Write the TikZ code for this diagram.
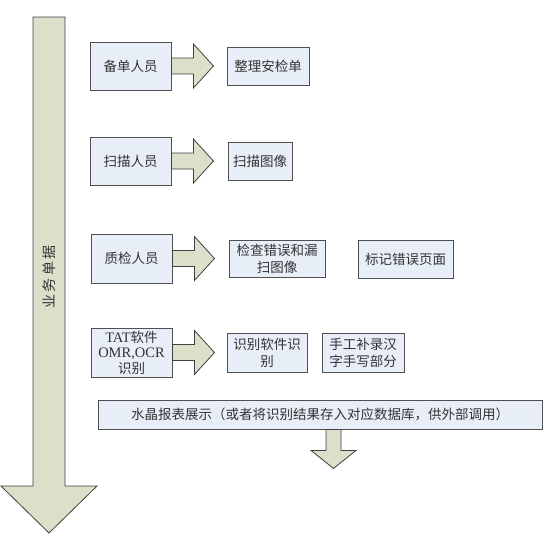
\documentclass[tikz,border=0pt]{standalone}
\usepackage{fontspec}
\setmainfont{Liberation Serif}
\newfontfamily\cjk{Noto Sans CJK SC}
\usetikzlibrary{calc}
\definecolor{boxfill}{HTML}{E8EEF8}
\definecolor{boxline}{HTML}{505050}
\definecolor{arrfill}{HTML}{DCDFC9}
\definecolor{arrline}{HTML}{404040}
\tikzset{
  box/.style={draw=boxline, fill=boxfill, line width=0.9pt, inner sep=0pt,
    align=center, font=\cjk\fontsize{13.5}{17}\selectfont, text=black!80},
  blockarrow/.style={draw=arrline, fill=arrfill, line width=0.8pt, line join=miter},
}
\begin{document}
\begin{tikzpicture}[x=1pt,y=-1pt]
\useasboundingbox (0,0) rectangle (551,544);
% big vertical arrow
\draw[blockarrow] (33,17) -- (65,17) -- (65,486) -- (97,486) -- (49,533) -- (1,486) -- (33,486) -- cycle;
\node[rotate=90, font=\cjk\fontsize{14}{15}\selectfont, text=black!80] (lbl) at (49,277) {业\,务\,单\,据};
% boxes
\node[box, minimum width=81, minimum height=48] (b1) at (130.5,66) {备单人员};
\node[box, minimum width=82, minimum height=38] (t1) at (268,66) {整理安检单};
\node[box, minimum width=81, minimum height=48] (b2) at (130.5,161) {扫描人员};
\node[box, minimum width=64, minimum height=38] (t2) at (260,161) {扫描图像};
\node[box, minimum width=81, minimum height=49] (b3) at (131.5,258.5) {质检人员};
\node[box, minimum width=96, minimum height=37] (t3a) at (277,258.5) {检查错误和漏\\扫图像};
\node[box, minimum width=95, minimum height=38] (t3b) at (405.5,259) {标记错误页面};
\node[box, minimum width=81, minimum height=49, font=\cjk\fontsize{13.5}{15.5}\selectfont] (b4) at (131.5,352.5) {{\rmfamily\fontsize{14.5}{15.5}\selectfont TAT}软件\\{\rmfamily\fontsize{14.5}{15.5}\selectfont OMR,OCR}\\识别};
\node[box, minimum width=80, minimum height=39] (t4a) at (267,352.5) {识别软件识\\别};
\node[box, minimum width=82, minimum height=39] (t4b) at (363,352.5) {手工补录汉\\字手写部分};
\node[box, minimum width=444, minimum height=29] (w) at (320,414.5) {水晶报表展示（或者将识别结果存入对应数据库，供外部调用）};
% block arrows between boxes
\foreach \n in {b1,b2,b3,b4}{
  \draw[blockarrow] ($(\n.east)+(0,-8)$) -- ++(22,0) -- ++(0,-14) -- ++(20,22) -- ++(-20,22) -- ++(0,-14) -- ++(-22,0) -- cycle;
}
% down arrow
\draw[blockarrow] ($(w.south)+(6,0)$) -- ++(15,0) -- ++(0,21) -- ++(15,0) -- ++(-22.5,18) -- ++(-22.5,-18) -- ++(15,0) -- ++(0,-21) -- cycle;
\end{tikzpicture}
\end{document}
